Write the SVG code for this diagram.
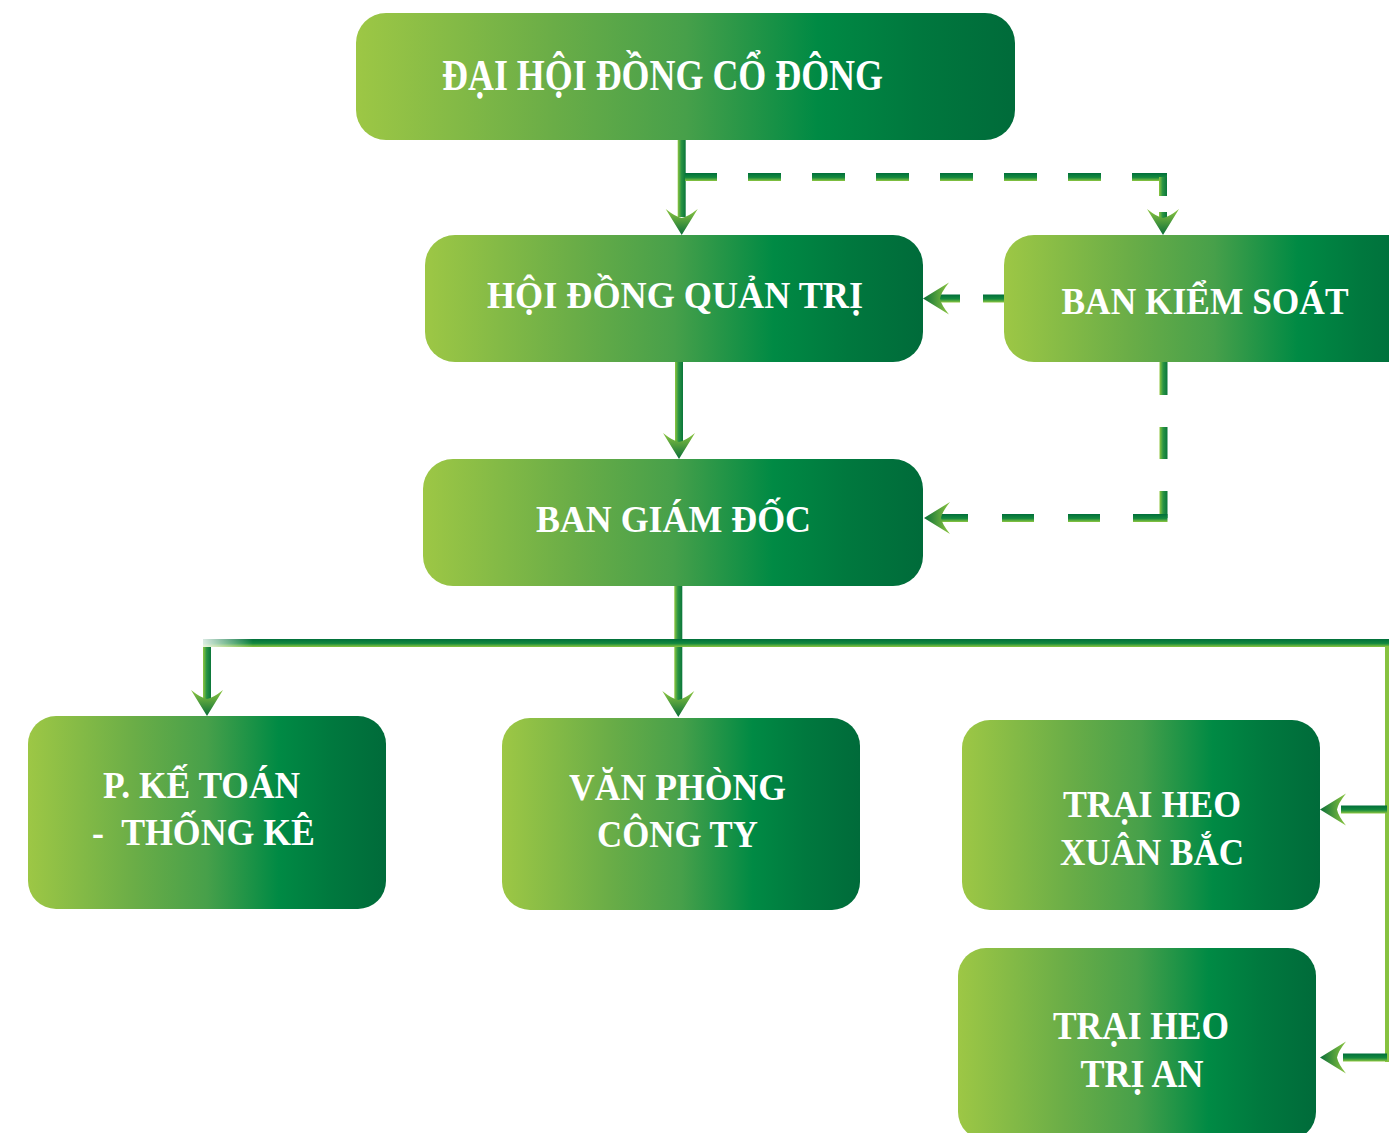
<svg xmlns="http://www.w3.org/2000/svg" xmlns:xlink="http://www.w3.org/1999/xlink" width="1389" height="1133" viewBox="0 0 1389 1133">
<defs>
<linearGradient id="box" x1="0" y1="0" x2="1" y2="0">
<stop offset="0" stop-color="#9dc745"/>
<stop offset="0.3" stop-color="#6aad47"/>
<stop offset="0.5" stop-color="#47a04a"/>
<stop offset="0.7" stop-color="#008a44"/>
<stop offset="0.85" stop-color="#00783e"/>
<stop offset="1" stop-color="#006b3a"/>
</linearGradient>
<linearGradient id="gv" x1="0" y1="0" x2="1" y2="0">
<stop offset="0" stop-color="#8dc63f"/>
<stop offset="0.45" stop-color="#2a9444"/>
<stop offset="1" stop-color="#0a763a"/>
</linearGradient>
<linearGradient id="gh" x1="0" y1="0" x2="0" y2="1">
<stop offset="0" stop-color="#006f3a"/>
<stop offset="0.55" stop-color="#14893f"/>
<stop offset="1" stop-color="#8dc63f"/>
</linearGradient>
<linearGradient id="ga" x1="0" y1="0" x2="0" y2="1">
<stop offset="0" stop-color="#8cc640"/>
<stop offset="1" stop-color="#0a6e38"/>
</linearGradient>
<linearGradient id="fade" x1="0" y1="0" x2="1" y2="0">
<stop offset="0" stop-color="#ffffff" stop-opacity="0.85"/>
<stop offset="1" stop-color="#ffffff" stop-opacity="0"/>
</linearGradient>
<path id="ah" d="M0,0 L-16,-26 Q-6,-18 0,-17 Q6,-18 16,-26 Z" fill="url(#ga)"/>
<style>
.node rect{fill:url(#box)}
.node text{font-family:"Liberation Serif","DejaVu Serif",serif;font-weight:bold;fill:#ffffff;text-anchor:middle}
.v{fill:url(#gv)}
.h{fill:url(#gh)}
</style>
</defs>

<g id="connectors">
<rect class="v" x="677.7" y="140" width="8" height="77"/>
<use xlink:href="#ah" transform="translate(681.7,235)"/>
<rect class="h" x="685" y="173" width="32" height="8"/>
<rect class="h" x="748" y="173" width="33" height="8"/>
<rect class="h" x="812" y="173" width="33" height="8"/>
<rect class="h" x="876" y="173" width="33" height="8"/>
<rect class="h" x="940" y="173" width="33" height="8"/>
<rect class="h" x="1004" y="173" width="33" height="8"/>
<rect class="h" x="1068" y="173" width="33" height="8"/>
<rect class="h" x="1132" y="173" width="35" height="8"/>
<rect class="v" x="1159" y="177" width="8" height="19"/>
<rect class="v" x="1159" y="212" width="8" height="7"/>
<use xlink:href="#ah" transform="translate(1163,235)"/>
<rect class="v" x="675" y="362" width="8" height="80"/>
<use xlink:href="#ah" transform="translate(679,459)"/>
<rect class="h" x="983" y="294.5" width="21" height="8"/>
<rect class="h" x="940" y="294.5" width="20" height="8"/>
<use xlink:href="#ah" transform="translate(923,298.5) rotate(90)"/>
<rect class="v" x="1159.5" y="362" width="8" height="33"/>
<rect class="v" x="1159.5" y="427" width="8" height="32"/>
<rect class="v" x="1159.5" y="491" width="8" height="27"/>
<rect class="h" x="1133" y="514" width="34.5" height="8"/>
<rect class="h" x="1068" y="514" width="32" height="8"/>
<rect class="h" x="1002" y="514" width="32" height="8"/>
<rect class="h" x="940" y="514" width="28" height="8"/>
<use xlink:href="#ah" transform="translate(924,518) rotate(90)"/>
<rect class="v" x="674.3" y="586" width="8" height="114"/>
<use xlink:href="#ah" transform="translate(678.3,717)"/>
<rect class="h" x="203" y="639" width="1186" height="8"/>
<rect x="203" y="639" width="50" height="8" fill="url(#fade)"/>
<rect class="v" x="203" y="647" width="8" height="52"/>
<use xlink:href="#ah" transform="translate(207,716)"/>
<rect x="1385" y="646" width="4" height="416" fill="#86c240"/>
<rect class="h" x="1341" y="805.5" width="46" height="8"/>
<use xlink:href="#ah" transform="translate(1320,809.5) rotate(90)"/>
<rect class="h" x="1343" y="1053.5" width="44" height="8"/>
<use xlink:href="#ah" transform="translate(1320,1057.5) rotate(90)"/>
</g>

<g id="node-dhdcd" class="node">
<rect x="356" y="13" width="659" height="127" rx="30"/>
<text x="662.5" y="90" font-size="44" textLength="441" lengthAdjust="spacingAndGlyphs">ĐẠI HỘI ĐỒNG CỔ ĐÔNG</text>
</g>
<g id="node-hdqt" class="node">
<rect x="425" y="235" width="498" height="127" rx="30"/>
<text x="675" y="308" font-size="37" textLength="376" lengthAdjust="spacingAndGlyphs">HỘI ĐỒNG QUẢN TRỊ</text>
</g>
<g id="node-bks" class="node">
<rect x="1004" y="235" width="420" height="127" rx="30"/>
<text x="1205" y="314" font-size="37" textLength="287" lengthAdjust="spacingAndGlyphs">BAN KIỂM SOÁT</text>
</g>
<g id="node-bgd" class="node">
<rect x="423" y="459" width="500" height="127" rx="30"/>
<text x="673.5" y="532" font-size="37" textLength="275" lengthAdjust="spacingAndGlyphs">BAN GIÁM ĐỐC</text>
</g>
<g id="node-pkt" class="node">
<rect x="28" y="716" width="358" height="193" rx="28"/>
<text x="201.5" y="798" font-size="38" textLength="197" lengthAdjust="spacingAndGlyphs">P. KẾ TOÁN</text>
<text x="203.5" y="845" font-size="38" textLength="223" lengthAdjust="spacingAndGlyphs" xml:space="preserve">-  THỐNG KÊ</text>
</g>
<g id="node-vp" class="node">
<rect x="502" y="718" width="358" height="192" rx="28"/>
<text x="677.5" y="800" font-size="38" textLength="217" lengthAdjust="spacingAndGlyphs">VĂN PHÒNG</text>
<text x="677.5" y="847" font-size="38" textLength="161" lengthAdjust="spacingAndGlyphs">CÔNG TY</text>
</g>
<g id="node-xb" class="node">
<rect x="962" y="720" width="358" height="190" rx="28"/>
<text x="1152" y="817" font-size="38" textLength="178" lengthAdjust="spacingAndGlyphs">TRẠI HEO</text>
<text x="1152" y="865" font-size="38" textLength="184" lengthAdjust="spacingAndGlyphs">XUÂN BẮC</text>
</g>
<g id="node-ta" class="node">
<rect x="958" y="948" width="358" height="192" rx="28"/>
<text x="1141" y="1039" font-size="39" textLength="176" lengthAdjust="spacingAndGlyphs">TRẠI HEO</text>
<text x="1142" y="1087" font-size="39" textLength="123" lengthAdjust="spacingAndGlyphs">TRỊ AN</text>
</g>
</svg>
